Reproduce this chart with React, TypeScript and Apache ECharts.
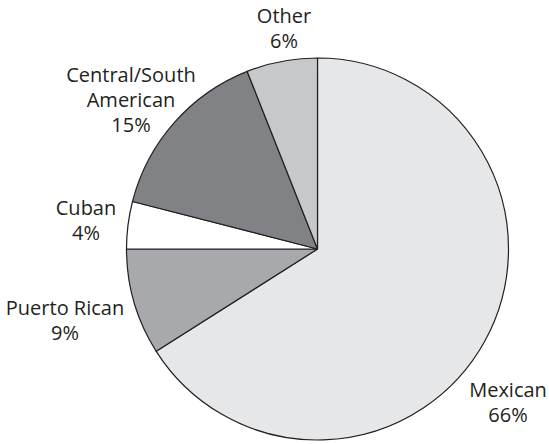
import React, { useEffect, useRef } from "react";
import * as echarts from "echarts";

const categories = ["Mexican", "Puerto Rican", "Cuban", "Central/South\nAmerican", "Other"];
const shares = [66, 9, 4, 15, 6];

const sliceColors = ["#e6e7e8", "#a7a9ac", "#ffffff", "#808285", "#c7c8ca"];
// label block centres (px) – styling only
const labelPos: [number, number][] = [
  [508, 402],
  [65, 320],
  [86, 220],
  [131, 99],
  [284, 28],
];

export default function App() {
  const ref = useRef<HTMLDivElement>(null);
  useEffect(() => {
    if (!ref.current) return;
    const chart = echarts.init(ref.current, undefined, { renderer: "svg" });
    chart.setOption({
      animation: false,
      backgroundColor: "#ffffff",
      series: [
        {
          type: "pie",
          center: [317.5, 249],
          radius: [0, 191],
          startAngle: 90,
          clockwise: true,
          avoidLabelOverlap: false,
          itemStyle: { borderColor: "#231f20", borderWidth: 1.2 },
          label: {
            show: true,
            position: "outside",
            formatter: "{b}\n{d}%",
            fontFamily: "Open Sans",
            fontSize: 20,
            lineHeight: 25,
            color: "#231f20",
          },
          labelLine: { show: false },
          labelLayout: (params: any) => {
            const p = labelPos[params.dataIndex];
            return { x: p[0], y: p[1], align: "center", verticalAlign: "middle" };
          },
          emphasis: { disabled: true },
          data: categories.map((name, i) => ({
            name,
            value: shares[i],
            itemStyle: { color: sliceColors[i] },
          })),
        },
      ],
    });
    return () => chart.dispose();
  }, []);
  return (
    <div
      ref={ref}
      style={{ position: "absolute", left: 0, top: 0, width: 549, height: 444 }}
    />
  );
}
